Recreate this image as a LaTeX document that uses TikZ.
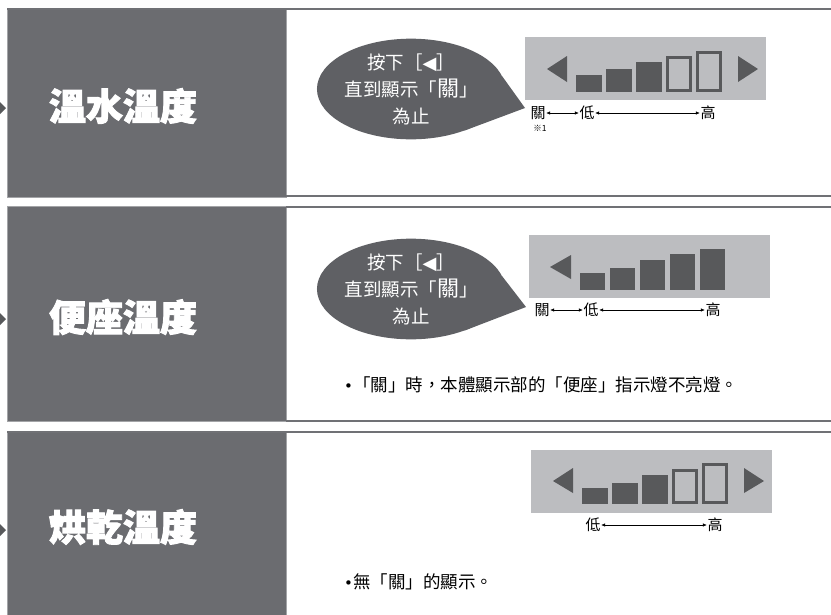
\documentclass[tikz,border=0pt]{standalone}
\usepackage{fontspec}
\setmainfont{Noto Sans CJK TC}
\newfontfamily\symf{DejaVu Sans}
\newfontfamily\titlefont[FakeBold=2.5,BoldFeatures={FakeBold=2.5}]{Noto Sans CJK TC}
\usetikzlibrary{shapes.geometric,arrows.meta}
\definecolor{panelgray}{HTML}{6B6C70}
\definecolor{paneledge}{HTML}{A3A4A7}
\definecolor{rulegray}{HTML}{707175}
\definecolor{bubblefill}{HTML}{5F6064}
\definecolor{indgray}{HTML}{BCBDC0}
\definecolor{bardark}{HTML}{58595B}
\tikzset{
  darkpanel/.style={fill=panelgray, draw=paneledge, line width=0.7pt},
  sectrule/.style={draw=rulegray, line width=2pt},
  titletext/.style={text=white, font=\titlefont\fontsize{37}{37}\selectfont\bfseries, inner sep=0pt},
  bubble/.style={ellipse, fill=bubblefill, minimum width=143pt, minimum height=98pt, inner sep=0pt,
     text=white, align=center, font=\fontsize{18.5}{27}\selectfont},
  lbl/.style={font=\fontsize{15}{15}\selectfont, inner sep=0.5pt, text=black},
  notetext/.style={font=\fontsize{17.5}{17.5}\selectfont, inner sep=0pt, anchor=west, text=black},
  rng/.style={{Latex[length=4pt,width=3.6pt]}-{Latex[length=4pt,width=3.6pt]}, line width=0.6pt, black},
  fullbar/.style={fill=bardark},
  hollowbar/.style={draw=bardark, line width=2.6pt},
  tri/.style={fill=bardark},
}
\newcommand{\bubbletext}{按下［{\symf\fontsize{18}{18}\selectfont ◀}］\\直到顯示「{\fontsize{22}{22}\selectfont 關}」\\為止}
\newcommand{\bul}{{\symf\fontsize{15}{15}\selectfont •}}
\begin{document}
\begin{tikzpicture}[x=1pt,y=-1pt]
\useasboundingbox (0,0) rectangle (831,614);
\fill[white] (0,0) rectangle (831,614);

% ---------- panels and rules ----------
\draw[darkpanel] (7,9) rectangle (286,197);
\draw[darkpanel] (7,206) rectangle (286,421);
\draw[darkpanel] (7,432) rectangle (286,616);
\draw[sectrule] (7,9) -- (831,9);
\draw[sectrule] (286,196) -- (831,196);
\draw[sectrule] (286,207) -- (831,207);
\draw[sectrule] (286,421) -- (831,421);
\draw[sectrule] (7,432) -- (831,432);

% left edge markers
\fill[tri] (0,102) -- (6,108) -- (0,114) -- cycle;
\fill[tri] (0,313) -- (6,319) -- (0,325) -- cycle;
\fill[tri] (0,524) -- (6,530) -- (0,536) -- cycle;

% titles
\node[titletext] (t1) at (123,106) {溫水溫度};
\node[titletext] (t2) at (123,317) {便座溫度};
\node[titletext] (t3) at (123,527) {烘乾溫度};

% ---------- section 1 ----------
\node[bubble] (b1) at (411,89) {\bubbletext};
\coordinate (tip1) at (525,108);
\fill[bubblefill] (b1.8) -- (tip1) -- (b1.-38) -- cycle;

\begin{scope}[shift={(525,37)}]
  \fill[indgray] (0,0) rectangle (241,63);
  \fill[tri] (22,32) -- (42,19) -- (42,45) -- cycle;
  \fill[fullbar] (51,55) rectangle (77,38);
  \fill[fullbar] (81,55) rectangle (107,32);
  \fill[fullbar] (111,55) rectangle (137,25);
  \draw[hollowbar] (142.3,53.7) rectangle (165.7,20.3);
  \draw[hollowbar] (172.3,53.7) rectangle (195.7,15.3);
  \fill[tri] (213,19) -- (233,32) -- (213,45) -- cycle;
  \node[lbl] (off1) at (13,76) {關};
  \node[lbl] (low1) at (62,76) {低};
  \node[lbl] (high1) at (183,76) {高};
  \node[font=\fontsize{8.5}{8.5}\selectfont, inner sep=0pt, text=black] (n1) at (15,91) {※1};
  \draw[rng] (off1.east) -- (low1.west);
  \draw[rng] (low1.east) -- (high1.west);
\end{scope}

% ---------- section 2 ----------
\node[bubble] (b2) at (411,289) {\bubbletext};
\coordinate (tip2) at (526,307);
\fill[bubblefill] (b2.8) -- (tip2) -- (b2.-38) -- cycle;

\begin{scope}[shift={(529,235)}]
  \fill[indgray] (0,0) rectangle (241,63);
  \fill[tri] (21,32) -- (42,20) -- (42,44) -- cycle;
  \fill[fullbar] (51,55) rectangle (76,38);
  \fill[fullbar] (81,55) rectangle (106,33);
  \fill[fullbar] (111,55) rectangle (136,25);
  \fill[fullbar] (141,55) rectangle (166,19);
  \fill[fullbar] (171,55) rectangle (196,14);
  \node[lbl] (off2) at (13,75) {關};
  \node[lbl] (low2) at (62,75) {低};
  \node[lbl] (high2) at (184,75) {高};
  \draw[rng] (off2.east) -- (low2.west);
  \draw[rng] (low2.east) -- (high2.west);
\end{scope}

\node[notetext] (note2) at (344,385) {\bul{}「關」時，本體顯示部的「便座」指示燈不亮燈。};

% ---------- section 3 ----------
\begin{scope}[shift={(531,450)}]
  \fill[indgray] (0,0) rectangle (241,63);
  \fill[tri] (22,31) -- (42,18) -- (42,43) -- cycle;
  \fill[fullbar] (51,54) rectangle (77,38);
  \fill[fullbar] (81,54) rectangle (107,33);
  \fill[fullbar] (111,54) rectangle (137,25);
  \draw[hollowbar] (142.3,52.7) rectangle (165.7,20.3);
  \draw[hollowbar] (172.3,52.7) rectangle (195.7,14.3);
  \fill[tri] (213,18) -- (233,31) -- (213,43) -- cycle;
  \node[lbl] (low3) at (62,75) {低};
  \node[lbl] (high3) at (184,75) {高};
  \draw[rng] (low3.east) -- (high3.west);
\end{scope}

\node[notetext] (note3) at (344,582) {\bul{}無「關」的顯示。};
\end{tikzpicture}
\end{document}
